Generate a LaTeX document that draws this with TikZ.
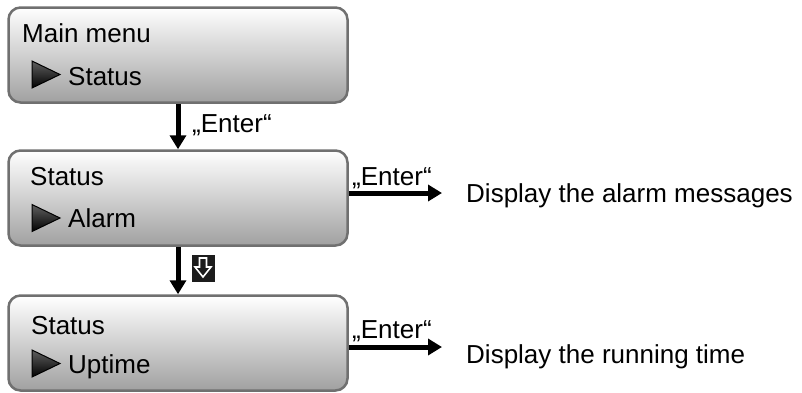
\documentclass[tikz,border=0pt]{standalone}
\usepackage{fontspec}
\setmainfont{Liberation Sans}
\usetikzlibrary{arrows.meta,positioning}
\definecolor{boxedge}{RGB}{112,112,112}
\definecolor{boxbottom}{RGB}{160,160,160}
\definecolor{keydark}{RGB}{28,28,28}

\begin{document}
\begin{tikzpicture}[x=1pt, y=-1pt,
  menubox/.style={draw=boxedge, line width=2.5pt, rounded corners=12pt, top color=white, bottom color=boxbottom, minimum width=339pt, minimum height=95pt, inner sep=0pt},
  menutext/.style={font=\fontsize{26}{30}\selectfont, inner sep=0pt, anchor=base west},
  pointer/.style={draw=black, line width=1pt, top color=gray!75!black, bottom color=black},
  enterarrow/.style={line width=5pt, -{Triangle[length=14pt,width=16pt]}},
  keyicon/.style={fill=keydark, minimum width=23pt, minimum height=27pt, inner sep=0pt},
  keyarrow/.style={draw=white, line width=1.6pt, line join=miter}]

\useasboundingbox (0,0) rectangle (802,392);

% menu screens
\node[menubox] (mainmenu) at (178,55) {};
\node[menubox] (statusalarm) at (178,198) {};
\node[menubox] (statusuptime) at (178,343) {};

\node[menutext] (mainmenutitle) at (22,42) {Main menu};
\path[pointer] (32,61) -- (60,74.5) -- (32,88) -- cycle;
\node[menutext] (mainmenuitem) at (68,85) {Status};

\node[menutext] (alarmtitle) at (30,185) {Status};
\path[pointer] (32,204.5) -- (60,218) -- (32,231.5) -- cycle;
\node[menutext] (alarmitem) at (68,227) {Alarm};

\node[menutext] (uptimetitle) at (31,334) {Status};
\path[pointer] (32,350) -- (60,363.5) -- (32,377) -- cycle;
\node[menutext] (uptimeitem) at (68,373) {Uptime};

% navigation
\draw[enterarrow] (mainmenu.south) -- (statusalarm.north);
\node[menutext] (enterdown) at (192,132) {„Enter“};

\draw[enterarrow] (statusalarm.south) -- (statusuptime.north);
\node[keyicon] (downkey) at (203,268) {};
\draw[keyarrow, shift={(downkey.center)}] (-3.5,-10) -- (3.5,-10) -- (3.5,-1) -- (8,-1) -- (0,9) -- (-8,-1) -- (-3.5,-1) -- cycle;

% actions
\coordinate (alarmend) at (442,193);
\draw[enterarrow] (statusalarm.east |- alarmend) -- (alarmend);
\node[menutext] (enteralarm) at (352,185) {„Enter“};
\node[menutext] (alarmmsg) at (466,202) {Display the alarm messages};

\coordinate (uptimeend) at (442,347);
\draw[enterarrow] (statusuptime.east |- uptimeend) -- (uptimeend);
\node[menutext] (enteruptime) at (352,338) {„Enter“};
\node[menutext] (uptimemsg) at (466,363) {Display the running time};

\end{tikzpicture}
\end{document}
